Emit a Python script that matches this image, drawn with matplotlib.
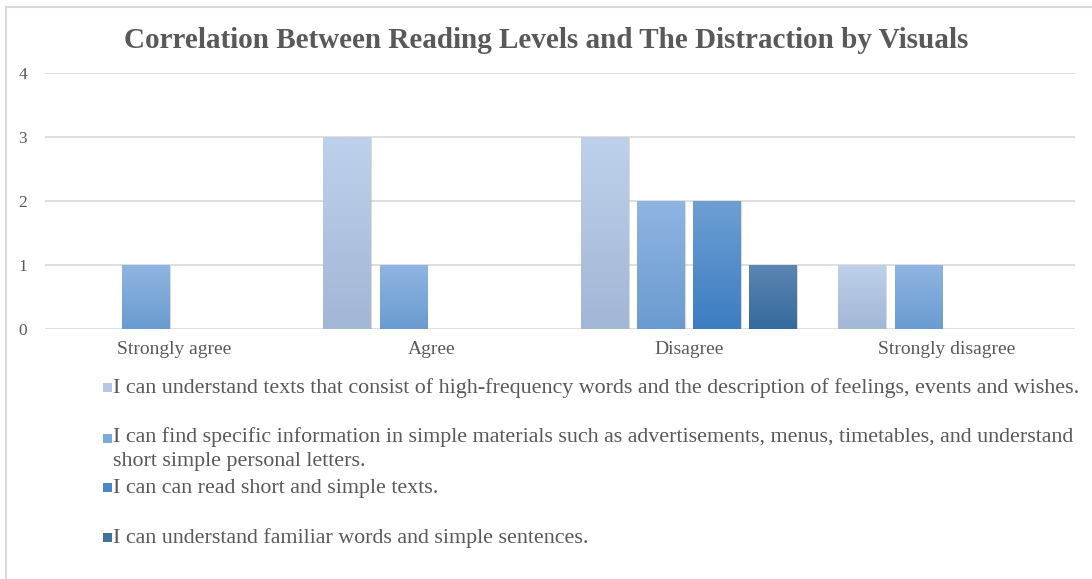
import matplotlib.pyplot as plt
import numpy as np
from matplotlib.colors import LinearSegmentedColormap
from matplotlib.patches import Rectangle

plt.rcParams['font.family'] = ['Liberation Serif', 'DejaVu Serif']

categories = ['Strongly agree', 'Agree', 'Disagree', 'Strongly disagree']
series_labels = [
    'I can understand texts that consist of high-frequency words and the description of feelings, events and wishes.',
    'I can find specific information in simple materials such as advertisements, menus, timetables, and understand\nshort simple personal letters.',
    'I can can read short and simple texts.',
    'I can understand familiar words and simple sentences.',
]
understand_texts = [0, 3, 3, 1]
find_information = [1, 1, 2, 1]
read_short_texts = [0, 0, 2, 0]
familiar_words = [0, 0, 1, 0]
series_values = [understand_texts, find_information, read_short_texts, familiar_words]

# top / bottom colours of each gradient fill
grad_colors = [('#bed1eb', '#a2b6d6'),
               ('#8fb5e2', '#6a9bd0'),
               ('#6d9fd4', '#3c7dc0'),
               ('#5b86b2', '#356a9e')]
key_colors = ['#b4c8e6', '#7eaadb', '#4b88c8', '#41719f']

W, H = 1092, 579
fig = plt.figure(figsize=(W / 100, H / 100), dpi=100)

# outer chart frame
fig.patches.append(Rectangle((6 / W, -0.1), 1.2, 1 - 7 / H + 0.1, transform=fig.transFigure,
                             facecolor='none', edgecolor='#d9d9d9', linewidth=1.5, zorder=0))

ax = fig.add_axes([45 / W, 1 - 329 / H, (1075 - 45) / W, (329 - 73) / H])
ax.set_facecolor('none')

x = np.arange(len(categories))
width = 0.183
step = 0.218
grad = np.linspace(0, 1, 100).reshape(-1, 1)

for i, vals in enumerate(series_values):
    pos = x + (i - 1.5) * step
    bars = ax.bar(pos, vals, width, color='none', zorder=3)
    cmap = LinearSegmentedColormap.from_list('g%d' % i, [grad_colors[i][1], grad_colors[i][0]])
    for b in bars:
        h = b.get_height()
        if h <= 0:
            continue
        x0 = b.get_x()
        # soft shadow behind the bar
        ax.add_patch(Rectangle((x0 + 0.006, 0), b.get_width(), h - 0.01,
                               facecolor='#9a9a9a', alpha=0.35, edgecolor='none', zorder=2))
        ax.imshow(grad, extent=[x0, x0 + b.get_width(), 0, h], origin='lower',
                  aspect='auto', cmap=cmap, zorder=3, interpolation='bilinear')

ax.set_xlim(-0.5, 3.5)
ax.set_ylim(0, 4)
ax.set_yticks([0, 1, 2, 3, 4])
ax.set_xticks(x)
ax.set_xticklabels(categories)
ax.yaxis.grid(True, color='#d9d9d9', linewidth=1.2, zorder=0)
ax.set_axisbelow(True)
for s in ax.spines.values():
    s.set_visible(False)
ax.tick_params(axis='both', length=0, colors='#595959')
ax.tick_params(axis='x', pad=9, labelsize=14)
ax.tick_params(axis='y', pad=13, labelsize=12.5)

fig.text(0.5, 1 - 40 / H, 'Correlation Between Reading Levels and The Distraction by Visuals',
         ha='center', va='center', fontsize=21, fontweight='bold', color='#595959')

# legend drawn below the plot
rows = [388, 439, 488, 538]
for i, label in enumerate(series_labels):
    y = rows[i]
    fig.patches.append(Rectangle((103 / W, 1 - (y + 4) / H), 9 / W, 9 / H, transform=fig.transFigure,
                                 facecolor=key_colors[i], edgecolor='none', zorder=3))
    if '\n' in label:
        fig.text(113 / W, 1 - (y - 12) / H, label, ha='left', va='top', fontsize=15.8,
                 color='#595959', linespacing=1.35)
    else:
        fig.text(113 / W, 1 - y / H, label, ha='left', va='center', fontsize=15.8, color='#595959')

fig.savefig('out.png', dpi=100)
